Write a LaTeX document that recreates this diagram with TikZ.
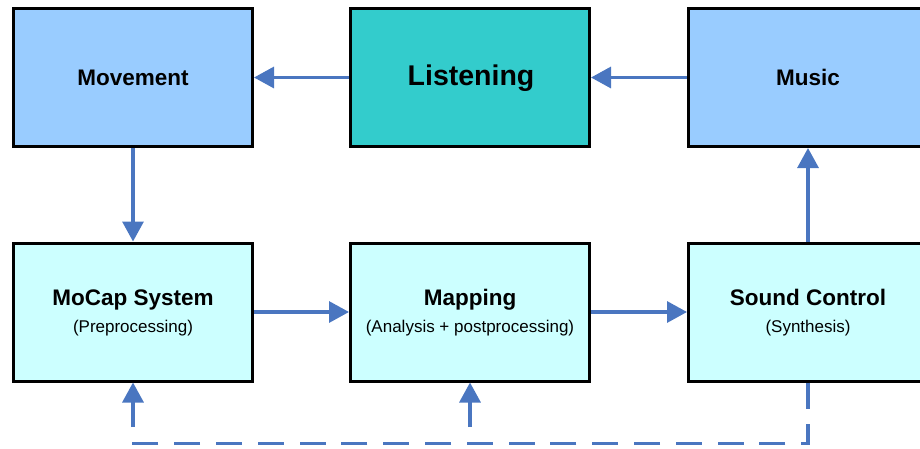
\documentclass[tikz,border=0pt]{standalone}
\usepackage{fontspec}
\setmainfont{Liberation Sans}
\usetikzlibrary{arrows.meta}
\definecolor{boxblue}{HTML}{99CCFF}
\definecolor{boxteal}{HTML}{33CCCC}
\definecolor{boxcyan}{HTML}{CCFFFF}
\definecolor{flow}{HTML}{4A76C0}
\tikzset{
  block/.style={draw=black, line width=3pt, rectangle, inner sep=0pt,
    minimum width=239pt, minimum height=138pt},
  title/.style={font=\fontsize{22.5}{26}\selectfont\bfseries, inner sep=0pt, anchor=base},
  subtitle/.style={font=\fontsize{17}{20}\selectfont, inner sep=0pt, anchor=base},
  flowarrow/.style={draw=flow, line width=3.2pt,
    -{Triangle[length=20pt,width=21pt]}},
  feedback/.style={draw=flow, line width=3.2pt, dash pattern=on 26pt off 15.8pt},
}
\begin{document}
\begin{tikzpicture}[x=1pt, y=-1pt]
  \useasboundingbox (0,0) rectangle (920,448);
  \clip (0,0) rectangle (920,448);

  % top row
  \node[block, fill=boxblue] (movement) at (133,77.5) {};
  \node[block, fill=boxteal] (listening) at (470,77.5) {};
  \node[block, fill=boxblue] (music) at (808,77.5) {};
  \node[title] (movementT) at (133,85) {Movement};
  \node[title, font=\fontsize{28.5}{32}\selectfont\bfseries] (listeningT) at (471,85) {Listening};
  \node[title] (musicT) at (808,85) {Music};

  % bottom row
  \node[block, fill=boxcyan] (mocap) at (133,312) {};
  \node[block, fill=boxcyan] (mapping) at (470,312) {};
  \node[block, fill=boxcyan] (sound) at (808,312) {};
  \node[title] (mocapT) at (133,305) {MoCap System};
  \node[subtitle] (mocapS) at (133,332.5) {(Preprocessing)};
  \node[title] (mappingT) at (470,305) {Mapping};
  \node[subtitle] (mappingS) at (470,332.5) {(Analysis + postprocessing)};
  \node[title] (soundT) at (808,305) {Sound Control};
  \node[subtitle] (soundS) at (808,332.5) {(Synthesis)};

  % main flow
  \draw[flowarrow] (listening.west) -- (movement.east);
  \draw[flowarrow] (music.west) -- (listening.east);
  \draw[flowarrow] (movement.south) -- (mocap.north);
  \draw[flowarrow] (mocap.east) -- (mapping.west);
  \draw[flowarrow] (mapping.east) -- (sound.west);
  \draw[flowarrow] (sound.north) -- (music.south);

  % feedback from sound control
  \coordinate (corner) at (808,443.5);
  \coordinate (fbend) at (131.5,443.5);
  \coordinate (fbmocap) at (133,427);
  \coordinate (fbmapping) at (470,427);
  \draw[feedback] (sound.south) -- (corner) -- (fbend);
  \draw[flowarrow] (fbmocap) -- (mocap.south);
  \draw[flowarrow] (fbmapping) -- (mapping.south);
\end{tikzpicture}
\end{document}
